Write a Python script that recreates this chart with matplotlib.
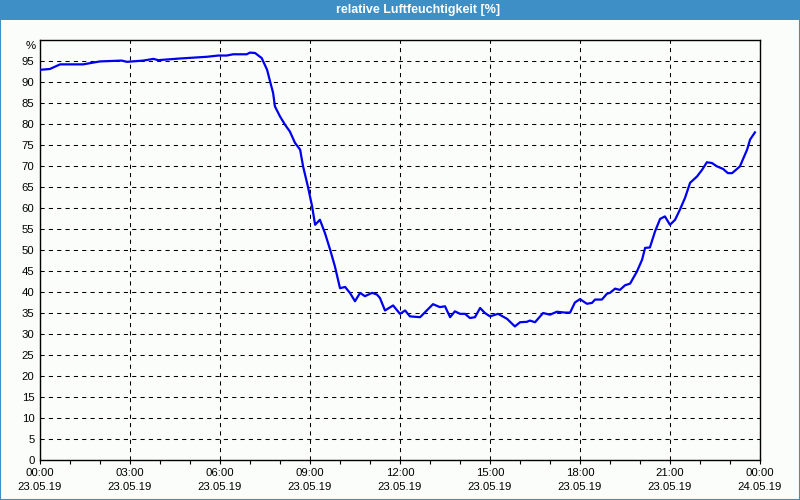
import matplotlib
matplotlib.use('Agg')
import matplotlib.pyplot as plt
from matplotlib.patches import Rectangle
from matplotlib.transforms import blended_transform_factory
from matplotlib.ticker import MultipleLocator

# ---- data (hours since 23.05.19 00:00, relative humidity %) ----
hours = [0.00, 0.33, 0.67, 1.44, 2.00, 2.72, 2.90, 3.44, 3.78, 3.94, 4.67, 5.56,
         5.94, 6.22, 6.44, 6.89, 7.00, 7.17, 7.39, 7.57, 7.67, 7.77, 7.83, 8.00,
         8.17, 8.33, 8.50, 8.67, 8.77, 8.93, 9.07, 9.17, 9.33, 9.50, 9.67, 9.83,
         10.00, 10.17, 10.33, 10.50, 10.67, 10.83, 11.07, 11.23, 11.33, 11.50,
         11.77, 12.00, 12.17, 12.33, 12.67, 13.10, 13.33, 13.50, 13.67, 13.83,
         14.00, 14.17, 14.33, 14.50, 14.67, 14.83, 15.00, 15.27, 15.57, 15.83,
         16.00, 16.23, 16.33, 16.50, 16.77, 17.00, 17.23, 17.50, 17.67, 17.83,
         18.00, 18.23, 18.40, 18.50, 18.73, 18.90, 19.00, 19.17, 19.33, 19.50,
         19.67, 19.90, 20.07, 20.17, 20.33, 20.50, 20.67, 20.83, 21.00, 21.17,
         21.33, 21.50, 21.67, 21.90, 22.07, 22.23, 22.40, 22.57, 22.77, 22.93,
         23.07, 23.33, 23.57, 23.67, 23.83]
humidity = [92.9, 93.1, 94.2, 94.2, 94.9, 95.1, 94.8, 95.1, 95.5, 95.2, 95.6, 96.0,
            96.3, 96.3, 96.6, 96.6, 97.0, 96.9, 95.7, 92.9, 90.1, 87.4, 84.2, 81.8,
            79.8, 78.2, 75.5, 73.9, 69.9, 65.1, 60.4, 56.0, 57.2, 54.0, 50.1, 46.1,
            40.9, 41.2, 39.8, 37.8, 39.8, 39.0, 39.8, 39.4, 38.6, 35.6,
            36.8, 34.8, 35.6, 34.2, 34.0, 37.1, 36.4, 36.6, 34.0, 35.4,
            34.8, 34.8, 33.8, 34.0, 36.2, 35.0, 34.2, 34.8, 33.6, 31.8,
            32.8, 32.9, 33.2, 32.8, 35.0, 34.6, 35.3, 35.1, 35.1, 37.5,
            38.3, 37.2, 37.4, 38.2, 38.2, 39.6, 39.8, 40.8, 40.5, 41.6,
            42.0, 44.9, 47.7, 50.5, 50.6, 54.4, 57.4, 58.0, 56.0, 57.2,
            59.6, 62.4, 66.0, 67.5, 69.1, 70.9, 70.7, 69.9, 69.3, 68.3,
            68.3, 69.9, 73.9, 76.3, 78.0]

x_tick_hours = [0, 3, 6, 9, 12, 15, 18, 21, 24]
x_tick_labels = ["00:00\n23.05.19", "03:00\n23.05.19", "06:00\n23.05.19",
                 "09:00\n23.05.19", "12:00\n23.05.19", "15:00\n23.05.19",
                 "18:00\n23.05.19", "21:00\n23.05.19", "00:00\n24.05.19"]
y_ticks = list(range(0, 100, 5))
title = "relative Luftfeuchtigkeit [%]"
unit = "%"

BLUE_BAR = '#3d8fc6'
BG = '#fbfdfb'
LINE = '#0000ee'

plt.rcParams['font.family'] = ['Liberation Sans', 'DejaVu Sans']

fig = plt.figure(figsize=(8, 5), dpi=100, facecolor=BG)

# title bar and border
fig.patches.append(Rectangle((0, 480 / 500), 1, 20 / 500, transform=fig.transFigure,
                             facecolor=BLUE_BAR, edgecolor='none', zorder=0))
fig.patches.append(Rectangle((0.0006, 0.001), 0.9988, 0.998, transform=fig.transFigure,
                             facecolor='none', edgecolor=BLUE_BAR, lw=1.5, zorder=5))
fig.text(418 / 800, 490 / 500, title, color='white', ha='center', va='center',
         fontsize=9, fontweight='bold')

ax = fig.add_axes([40 / 800, 40 / 500, 720 / 800, 420 / 500])
ax.set_facecolor(BG)
ax.plot(hours, humidity, color=LINE, lw=1.6, zorder=3)

ax.set_xlim(0, 24)
ax.set_ylim(0, 100)
ax.set_xticks(x_tick_hours)
ax.set_xticklabels(x_tick_labels, fontsize=8.2)
ax.xaxis.set_minor_locator(MultipleLocator(1))
ax.set_yticks(y_ticks)
ax.set_yticklabels([str(v) for v in y_ticks], fontsize=8.2)
for lab in ax.get_xticklabels():
    lab.set_linespacing(1.45)

ax.tick_params(axis='x', which='both', direction='out', length=3, width=0.8, pad=3, colors='black')
ax.tick_params(axis='y', which='both', length=0, pad=4)

ax.grid(True, which='major', color='black', linestyle=(0, (4, 4)), lw=0.75)
for s in ax.spines.values():
    s.set_color('black')
    s.set_linewidth(1.0)

tr = blended_transform_factory(ax.transAxes, ax.transData)
ax.text(-0.0055, 98.6, unit, transform=tr, ha='right', va='center', fontsize=8.2)

fig.savefig('out.png', dpi=100, facecolor=BG)
